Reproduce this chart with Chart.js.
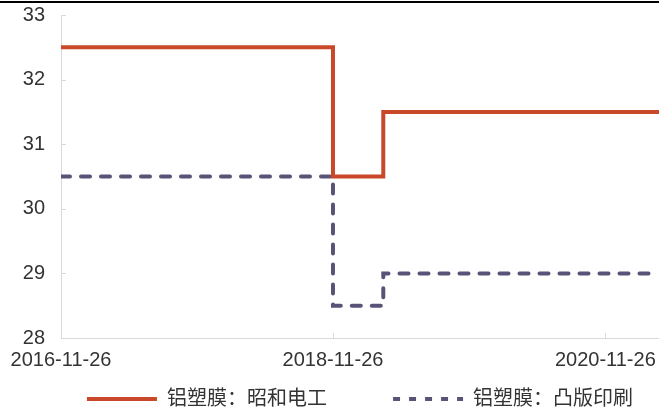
<!DOCTYPE html>
<html>
<head>
<meta charset="utf-8">
<script src="https://cdn.jsdelivr.net/npm/chart.js@4/dist/chart.umd.min.js"></script>
<style>
  html, body { margin: 0; padding: 0; background: #fff; }
  #wrap { position: relative; width: 659px; height: 409px; }
  #topline { position: absolute; left: 0; top: 1px; width: 659px; height: 2px; background: #000; }
</style>
</head>
<body>
<div id="wrap">
  <canvas id="priceChart" width="659" height="409"></canvas>
  <div id="topline"></div>
</div>
<script>
// step dates and values
var stepDates = ['2016-11-26', '2018-11-26', '2019-04-10', '2021-04-19'];
var showaDenko = [32.5, 30.5, 31.5, 31.5];
var toppan = [30.5, 28.5, 29, 29];
var tickDates = ['2016-11-26', '2018-11-26', '2020-11-26'];
var seriesNames = ['铝塑膜：昭和电工', '铝塑膜：凸版印刷'];

var startMs = Date.UTC(2016, 10, 26);
function dayOf(s) {
    var p = s.split('-');
    return Math.round((Date.UTC(+p[0], +p[1] - 1, +p[2]) - startMs) / 86400000);
}
function labelOf(v) {
    return new Date(startMs + v * 86400000).toISOString().slice(0, 10);
}
function toPoints(vals) {
    return stepDates.map(function (d, i) { return { x: dayOf(d), y: vals[i] }; });
}

var FONT = "'Liberation Sans', Arial, 'Noto Sans CJK SC', sans-serif";
var AXIS = '#d9d9d9';

// small tick marks drawn inside the plot, like the original
var innerTicks = {
    id: 'innerTicks',
    afterDraw: function (chart) {
        var ctx = chart.ctx, x = chart.scales.x, y = chart.scales.y;
        ctx.save();
        ctx.strokeStyle = AXIS;
        ctx.lineWidth = 1;
        ctx.beginPath();
        y.ticks.forEach(function (t) {
            var py = Math.round(y.getPixelForValue(t.value)) + 0.5;
            ctx.moveTo(x.left, py); ctx.lineTo(x.left + 5, py);
        });
        x.ticks.forEach(function (t) {
            var px = Math.round(x.getPixelForValue(t.value)) + 0.5;
            ctx.moveTo(px, y.bottom); ctx.lineTo(px, y.bottom - 5);
        });
        ctx.stroke();
        ctx.restore();
    }
};

var ctx = document.getElementById('priceChart').getContext('2d');
new Chart(ctx, {
    type: 'line',
    data: {
        datasets: [
            {
                label: seriesNames[0],
                data: toPoints(showaDenko),
                borderColor: '#C9482A',
                backgroundColor: '#C9482A',
                borderWidth: 4,
                stepped: true,
                pointRadius: 0
            },
            {
                label: seriesNames[1],
                data: toPoints(toppan),
                borderColor: '#575478',
                backgroundColor: '#575478',
                borderWidth: 4,
                borderDash: [9, 11],
                borderCapStyle: 'round',
                stepped: true,
                pointRadius: 0
            }
        ]
    },
    options: {
        responsive: false,
        animation: false,
        layout: { padding: { left: 20, right: 0, top: 15, bottom: -10 } },
        plugins: {
            tooltip: { enabled: false },
            legend: {
                position: 'bottom',
                fullSize: false,
                labels: {
                    usePointStyle: true,
                    pointStyle: 'line',
                    pointStyleWidth: 70,
                    padding: 15,
                    color: '#333',
                    font: { family: FONT, size: 20 },
                    generateLabels: function (chart) {
                        var items = Chart.defaults.plugins.legend.labels.generateLabels(chart);
                        items[0].text = items[0].text + '\u3000\u3000  ';
                        items[1].lineDash = [7, 9];
                        return items;
                    }
                }
            }
        },
        scales: {
            x: {
                type: 'linear',
                min: 0,
                max: dayOf(stepDates[stepDates.length - 1]),
                grid: { display: false },
                border: { color: AXIS, width: 1 },
                afterBuildTicks: function (scale) {
                    scale.ticks = tickDates.map(function (d) { return { value: dayOf(d) }; });
                },
                ticks: {
                    autoSkip: false,
                    maxRotation: 0,
                    padding: 2,
                    color: '#333',
                    font: { family: FONT, size: 20 },
                    callback: function (v) { return labelOf(v); }
                }
            },
            y: {
                min: 28,
                max: 33,
                grid: { display: false, tickLength: 16 },
                border: { color: AXIS, width: 1 },
                afterFit: function (scale) { scale.width = 41; },
                ticks: {
                    stepSize: 1,
                    padding: 0,
                    color: '#333',
                    font: { family: FONT, size: 20 }
                }
            }
        }
    },
    plugins: [innerTicks]
});
</script>
</body>
</html>
